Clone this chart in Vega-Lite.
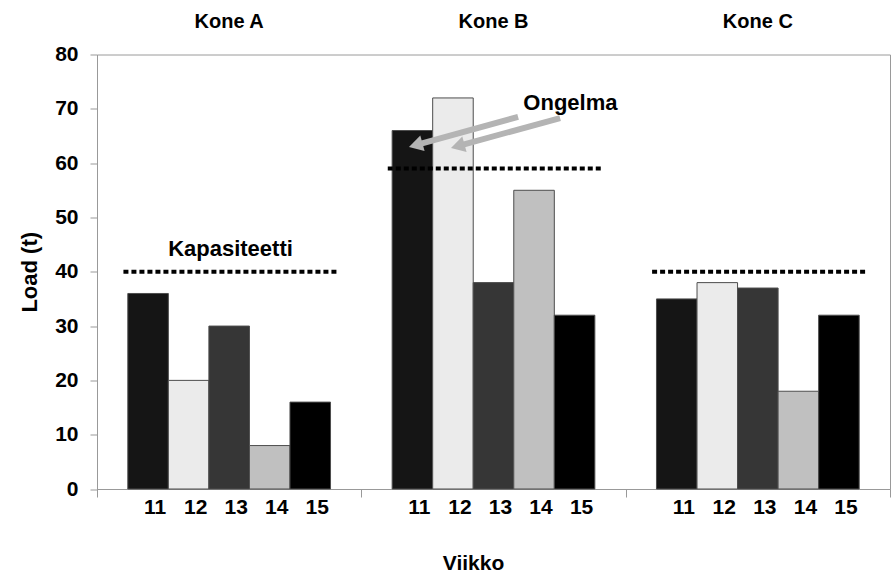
{
  "$schema": "https://vega.github.io/schema/vega-lite/v6.json",
  "width": 793,
  "height": 434.5,
  "autosize": "none",
  "padding": {"left": 97, "top": 54.5, "right": 3, "bottom": 87},
  "background": "white",
  "config": {
    "view": {"stroke": "#9a9a9a", "strokeWidth": 1},
    "font": "Liberation Sans",
    "axis": {"labelFont": "Liberation Sans", "titleFont": "Liberation Sans"},
    "text": {"font": "Liberation Sans"}
  },
  "datasets": {
    "bars": [
      {"kone": "Kone A", "week": "11", "load": 36},
      {"kone": "Kone A", "week": "12", "load": 20},
      {"kone": "Kone A", "week": "13", "load": 30},
      {"kone": "Kone A", "week": "14", "load": 8},
      {"kone": "Kone A", "week": "15", "load": 16},
      {"kone": "Kone B", "week": "11", "load": 66},
      {"kone": "Kone B", "week": "12", "load": 72},
      {"kone": "Kone B", "week": "13", "load": 38},
      {"kone": "Kone B", "week": "14", "load": 55},
      {"kone": "Kone B", "week": "15", "load": 32},
      {"kone": "Kone C", "week": "11", "load": 35},
      {"kone": "Kone C", "week": "12", "load": 38},
      {"kone": "Kone C", "week": "13", "load": 37},
      {"kone": "Kone C", "week": "14", "load": 18},
      {"kone": "Kone C", "week": "15", "load": 32}
    ],
    "caps": [
      {"kone": "Kone A", "cap": 40},
      {"kone": "Kone B", "cap": 59},
      {"kone": "Kone C", "cap": 40}
    ],
    "arrows": [
      {"arrow": 1, "pt": 0, "x": 1.593, "y": 68.5},
      {"arrow": 1, "pt": 1, "x": 1.2057, "y": 63.32},
      {"arrow": 2, "pt": 0, "x": 1.752, "y": 68.3},
      {"arrow": 2, "pt": 1, "x": 1.3646, "y": 63.14}
    ],
    "heads": [
      {"arrow": 1, "x": 1.2057, "y": 63.32},
      {"arrow": 2, "x": 1.3646, "y": 63.14}
    ],
    "notes": [
      {"label": "Ongelma", "x": 1.791, "y": 71.1},
      {"label": "Kapasiteetti", "x": 0.505, "y": 44.2}
    ]
  },
  "layer": [
    {
      "layer": [
        {
          "data": {"name": "bars"},
          "mark": {"type": "bar", "stroke": "#4d4d4d", "strokeWidth": 1},
          "encoding": {
            "x": {
              "field": "kone", "type": "nominal",
              "scale": {"paddingInner": 0, "paddingOuter": 0},
              "axis": {"orient": "top", "title": null, "domain": false, "ticks": false, "tickSize": 0,
                       "labelPadding": 23, "labelFontSize": 20, "labelFontWeight": "bold", "labelColor": "black", "labelAngle": 0}
            },
            "xOffset": {"field": "week", "type": "nominal", "scale": {"paddingInner": 0, "paddingOuter": 0.76}},
            "y": {
              "field": "load", "type": "quantitative",
              "scale": {"domain": [0, 80], "nice": false},
              "axis": {"title": "Load (t)", "values": [0, 10, 20, 30, 40, 50, 60, 70, 80], "grid": false,
                       "tickSize": 7, "tickColor": "#999", "domainColor": "#999",
                       "labelFontSize": 21, "labelFontWeight": "bold", "labelPadding": 12, "labelColor": "black",
                       "titleFontSize": 22, "titleFontWeight": "bold", "titlePadding": 13, "titleColor": "black"}
            },
            "color": {
              "field": "week", "type": "nominal",
              "scale": {"domain": ["11", "12", "13", "14", "15"], "range": ["#151515", "#ebebeb", "#363636", "#c0c0c0", "#000000"]},
              "legend": null
            }
          }
        },
        {
          "data": {"name": "bars"},
          "mark": {"type": "text", "fontSize": 21, "fontWeight": "bold", "color": "black", "dy": 19, "dx": 7, "baseline": "middle"},
          "encoding": {
            "x": {"field": "kone", "type": "nominal", "axis": null},
            "xOffset": {"field": "week", "type": "nominal"},
            "y": {"datum": 0, "type": "quantitative", "scale": {"domain": [0, 80], "nice": false}},
            "text": {"field": "week"}
          }
        },
        {
          "data": {"name": "caps"},
          "mark": {"type": "rule", "strokeWidth": 4, "strokeDash": [5, 3], "color": "black"},
          "encoding": {
            "x": {
              "field": "kone", "type": "nominal", "bandPosition": 0.1,
              "axis": {"orient": "bottom", "title": "Viikko", "labels": false, "tickBand": "extent", "tickSize": 8,
                       "tickColor": "#999", "domainColor": "#999", "titleFontSize": 21, "titleFontWeight": "bold",
                       "titlePadding": 55, "titleX": 376, "titleColor": "black"}
            },
            "x2": {"field": "kone", "bandPosition": 0.91},
            "y": {"field": "cap", "type": "quantitative", "scale": {"domain": [0, 80], "nice": false}}
          }
        }
      ],
      "resolve": {"axis": {"x": "independent"}}
    },
    {
      "layer": [
        {
          "data": {"name": "arrows"},
          "mark": {"type": "line", "color": "#b4b4b4", "strokeWidth": 6, "strokeCap": "butt"},
          "encoding": {
            "x": {"field": "x", "type": "quantitative", "scale": {"domain": [0, 3], "nice": false, "zero": false}, "axis": null},
            "y": {"field": "y", "type": "quantitative", "scale": {"domain": [0, 80], "nice": false}},
            "detail": {"field": "arrow"},
            "order": {"field": "pt"}
          }
        },
        {
          "data": {"name": "heads"},
          "mark": {"type": "point", "shape": "triangle-right", "filled": true, "color": "#b4b4b4", "opacity": 1, "size": 260, "angle": 164.6},
          "encoding": {
            "x": {"field": "x", "type": "quantitative"},
            "y": {"field": "y", "type": "quantitative", "scale": {"domain": [0, 80], "nice": false}}
          }
        },
        {
          "data": {"name": "notes"},
          "mark": {"type": "text", "fontSize": 22, "fontWeight": "bold", "color": "black", "baseline": "middle"},
          "encoding": {
            "x": {"field": "x", "type": "quantitative"},
            "y": {"field": "y", "type": "quantitative", "scale": {"domain": [0, 80], "nice": false}},
            "text": {"field": "label"}
          }
        }
      ]
    }
  ],
  "resolve": {"scale": {"x": "independent"}}
}
